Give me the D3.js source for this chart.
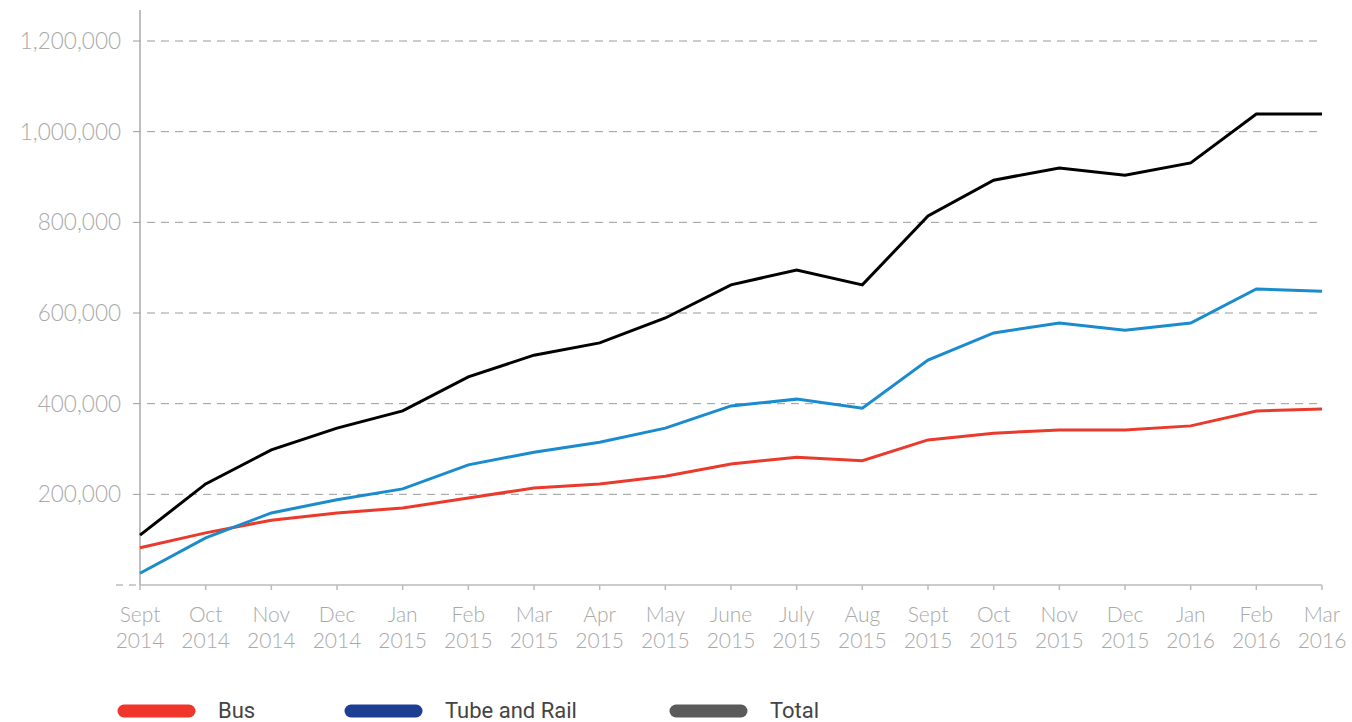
<!DOCTYPE html>
<html>
<head>
<meta charset="utf-8">
<script src="https://cdn.jsdelivr.net/npm/d3@7"></script>
<style>
  body { margin: 0; background: #fff; }
  svg { display: block; }
</style>
</head>
<body>
<div id="chart"></div>
<script>
// data
const months = ["Sept", "Oct", "Nov", "Dec", "Jan", "Feb", "Mar", "Apr", "May", "June",
  "July", "Aug", "Sept", "Oct", "Nov", "Dec", "Jan", "Feb", "Mar"];
const years = ["2014", "2014", "2014", "2014", "2015", "2015", "2015", "2015", "2015", "2015",
  "2015", "2015", "2015", "2015", "2015", "2015", "2016", "2016", "2016"];

const bus = [82000, 115000, 143000, 159000, 170000, 192000, 214000, 223000, 240000, 267000,
  282000, 274000, 320000, 335000, 342000, 342000, 351000, 384000, 388000];
const tubeRail = [26000, 104000, 159000, 188000, 212000, 265000, 293000, 315000, 346000, 395000,
  410000, 390000, 496000, 556000, 578000, 562000, 578000, 653000, 648000];
const total = [110000, 223000, 298000, 346000, 384000, 459000, 507000, 534000, 589000, 662000,
  695000, 662000, 814000, 893000, 920000, 904000, 931000, 1039000, 1039000];

const yTicks = [0, 200000, 400000, 600000, 800000, 1000000, 1200000];

const series = [
  { name: "Bus", values: bus, color: "#ea3a2c", key: "#f0352a" },
  { name: "Tube and Rail", values: tubeRail, color: "#1a8bcd", key: "#1c3f94" },
  { name: "Total", values: total, color: "#000000", key: "#5a5a5a" },
];

const width = 1352, height = 722;
const margin = { top: 41, right: 30, bottom: 137, left: 140 };
const innerW = width - margin.left - margin.right;
const innerH = height - margin.top - margin.bottom;

const svg = d3.select("#chart").append("svg")
  .attr("width", width)
  .attr("height", height);

const g = svg.append("g")
  .attr("transform", `translate(${margin.left},${margin.top})`);

const x = d3.scaleLinear().domain([0, months.length - 1]).range([0, innerW]);
const y = d3.scaleLinear().domain([0, 1200000]).range([innerH, 0]);

const labelFont = "Lato, 'Open Sans', sans-serif";
const grey = "#a9a9a9";

// dashed gridlines
g.append("g").selectAll("line")
  .data(yTicks.filter(d => d > 0))
  .join("line")
  .attr("x1", -7)
  .attr("x2", innerW)
  .attr("y1", d => y(d))
  .attr("y2", d => y(d))
  .attr("stroke", "#9a9a9a")
  .attr("stroke-width", 1)
  .attr("stroke-dasharray", "8,6");

// short dashes left of zero
g.append("line")
  .attr("x1", -24).attr("x2", 0)
  .attr("y1", y(0)).attr("y2", y(0))
  .attr("stroke", "#9a9a9a")
  .attr("stroke-dasharray", "7,6");

// y labels
g.append("g").selectAll("text")
  .data(yTicks.filter(d => d > 0))
  .join("text")
  .attr("x", -19)
  .attr("y", d => y(d))
  .attr("dy", "0.35em")
  .attr("text-anchor", "end")
  .attr("font-family", labelFont)
  .attr("font-weight", 300)
  .attr("font-size", 22.5)
  .attr("fill", grey)
  .text(d => d3.format(",")(d));

// axes lines
g.append("line")
  .attr("x1", 0).attr("x2", 0)
  .attr("y1", -31).attr("y2", innerH)
  .attr("stroke", "#aaa").attr("stroke-width", 1.5);

const xAxisG = g.append("g").attr("transform", `translate(0,${innerH})`);
xAxisG.append("line")
  .attr("x1", 0).attr("x2", innerW)
  .attr("stroke", "#bbb").attr("stroke-width", 1.5);

xAxisG.selectAll("line.tick")
  .data(d3.range(months.length))
  .join("line")
  .attr("class", "tick")
  .attr("x1", d => x(d)).attr("x2", d => x(d))
  .attr("y1", 0).attr("y2", 5)
  .attr("stroke", "#bbb").attr("stroke-width", 1.5);

// month and year as two separate labels
const xLabels = xAxisG.append("g")
  .attr("text-anchor", "middle")
  .attr("font-family", labelFont)
  .attr("font-weight", 300)
  .attr("font-size", 21)
  .attr("fill", grey);

xLabels.selectAll("text.month")
  .data(d3.range(months.length))
  .join("text")
  .attr("class", "month")
  .attr("x", d => x(d))
  .attr("y", 37)
  .text(d => months[d]);

xLabels.selectAll("text.year")
  .data(d3.range(months.length))
  .join("text")
  .attr("class", "year")
  .attr("x", d => x(d))
  .attr("y", 63)
  .text(d => years[d]);

// lines
const line = d3.line()
  .x((d, i) => x(i))
  .y(d => y(d));

g.append("g").selectAll("path")
  .data(series)
  .join("path")
  .attr("d", d => line(d.values))
  .attr("fill", "none")
  .attr("stroke", d => d.color)
  .attr("stroke-width", 3)
  .attr("stroke-linejoin", "miter");

// legend
const legendX = [120, 347, 672];
const legend = svg.append("g").selectAll("g")
  .data(series)
  .join("g")
  .attr("transform", (d, i) => `translate(${legendX[i]},711)`);

legend.append("line")
  .attr("x1", 4).attr("x2", 69)
  .attr("stroke", d => d.key)
  .attr("stroke-width", 13)
  .attr("stroke-linecap", "round");

legend.append("text")
  .attr("x", 98)
  .attr("y", 7)
  .attr("font-family", "'Liberation Sans Narrow', 'Roboto', sans-serif")
  .attr("font-size", 22)
  .attr("fill", "#444")
  .text(d => d.name);
</script>
</body>
</html>
